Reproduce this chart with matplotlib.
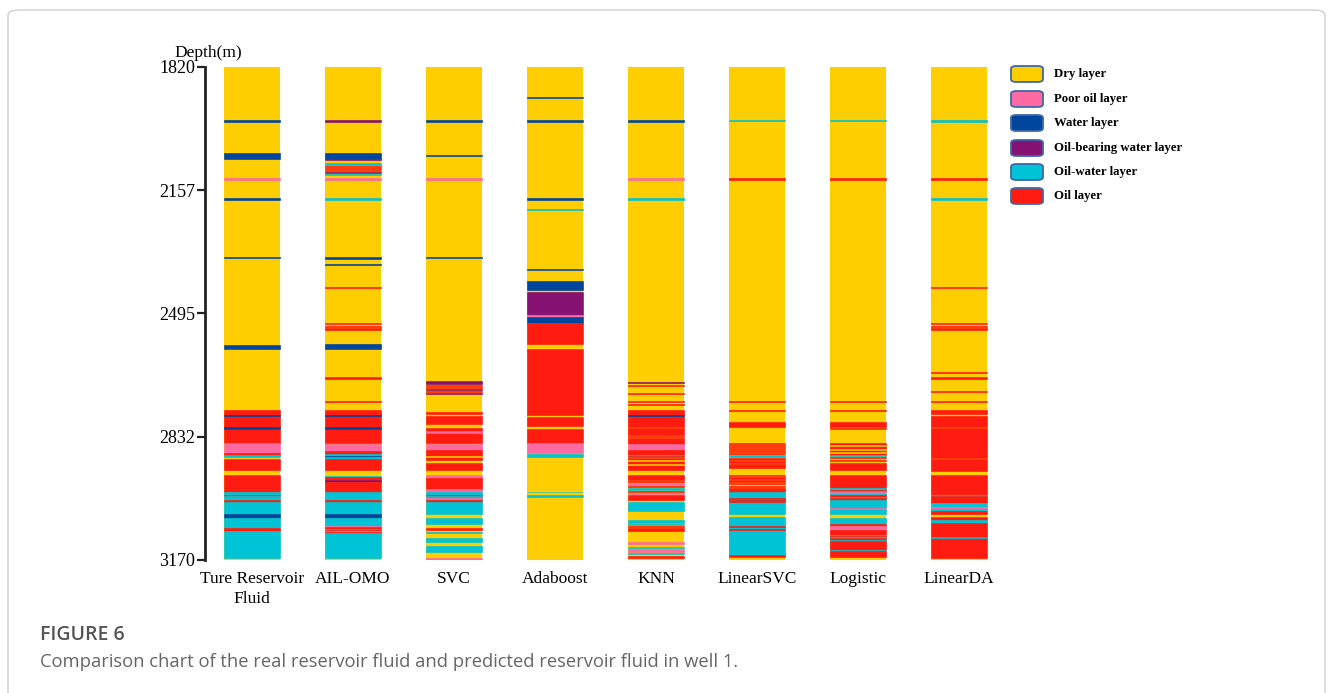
import matplotlib
matplotlib.use("Agg")
import matplotlib.pyplot as plt
from matplotlib.patches import FancyBboxPatch

plt.rcParams['font.family'] = ['Liberation Serif', 'DejaVu Serif']

# 층 종류와 색
layer_names = ['Dry layer', 'Poor oil layer', 'Water layer',
               'Oil-bearing water layer', 'Oil-water layer', 'Oil layer']
layer_codes = ['D', 'P', 'W', 'B', 'C', 'O']
layer_colors = ['#FFCE00', '#FF6AA2', '#00469E', '#861272', '#00C3D5', '#FF1B10']

methods = ['Ture Reservoir\nFluid', 'AIL-OMO', 'SVC', 'Adaboost', 'KNN',
           'LinearSVC', 'Logistic', 'LinearDA']

depth_top = 1820
depth_bottom = 3170
depth_ticks = [1820, 2157, 2495, 2832, 3170]

# 각 구간: (상부 심도, 하부 심도, 층 코드) -- 나머지는 건층(D)
true_fluid = [
    (1966, 1970, 'W'), (2055, 2071, 'W'), (2125, 2129, 'P'), (2180, 2184, 'W'),
    (2339, 2343, 'W'), (2580, 2592, 'W'), (2759, 2850, 'O'), (2773, 2777, 'W'),
    (2805, 2810, 'W'), (2850, 2878, 'P'), (2878, 2882, 'O'), (2882, 2888, 'C'),
    (2893, 2923, 'O'), (2937, 2984, 'O'), (2984, 2992, 'C'), (2992, 2996, 'O'),
    (2996, 3005, 'C'), (3005, 3010, 'O'), (3010, 3045, 'C'), (3045, 3054, 'W'),
    (3054, 3083, 'C'), (3083, 3090, 'O'), (3090, 3164, 'C'),
]

ail_omo = [
    (1966, 1970, 'B'), (2055, 2072, 'W'), (2072, 2076, 'B'), (2084, 2087, 'C'),
    (2090, 2093, 'O'), (2096, 2099, 'O'), (2101, 2104, 'O'), (2107, 2110, 'B'),
    (2114, 2117, 'C'), (2125, 2129, 'P'), (2180, 2184, 'C'), (2339, 2346, 'W'),
    (2359, 2363, 'W'), (2423, 2426, 'O'), (2520, 2523, 'O'), (2529, 2532, 'O'),
    (2536, 2539, 'O'), (2579, 2591, 'W'), (2670, 2673, 'O'), (2735, 2738, 'O'),
    (2759, 2850, 'O'), (2773, 2777, 'W'), (2805, 2810, 'W'), (2853, 2871, 'P'),
    (2871, 2880, 'O'), (2880, 2884, 'C'), (2884, 2888, 'W'), (2888, 2893, 'C'),
    (2893, 2923, 'O'), (2940, 2944, 'C'), (2944, 2951, 'O'), (2951, 2957, 'B'),
    (2957, 2984, 'O'), (2984, 3005, 'C'), (3005, 3010, 'O'), (3010, 3045, 'C'),
    (3045, 3054, 'W'), (3054, 3077, 'C'), (3077, 3080, 'P'), (3080, 3084, 'O'),
    (3084, 3087, 'C'), (3087, 3091, 'O'), (3091, 3094, 'P'), (3094, 3097, 'O'),
    (3097, 3164, 'C'),
]

svc = [
    (1966, 1970, 'W'), (2061, 2065, 'W'), (2125, 2129, 'P'), (2339, 2343, 'W'),
    (2681, 2687, 'B'), (2690, 2693, 'O'), (2696, 2699, 'O'), (2701, 2705, 'B'),
    (2707, 2710, 'O'), (2712, 2716, 'B'), (2766, 2770, 'O'), (2777, 2798, 'O'),
    (2809, 2850, 'O'), (2818, 2821, 'P'), (2853, 2869, 'P'), (2869, 2896, 'O'),
    (2886, 2889, 'D'), (2905, 2923, 'O'), (2937, 2946, 'P'), (2946, 2975, 'O'),
    (2975, 2985, 'P'), (2985, 2992, 'C'), (2992, 2996, 'O'), (2996, 3005, 'C'),
    (3000, 3003, 'P'), (3005, 3010, 'O'), (3010, 3045, 'C'), (3054, 3072, 'C'),
    (3083, 3088, 'O'), (3092, 3096, 'C'), (3109, 3120, 'C'), (3133, 3149, 'C'),
    (3165, 3170, 'P'),
]

adaboost = [
    (1901, 1905, 'W'), (1966, 1971, 'W'), (2180, 2184, 'W'), (2210, 2212, 'C'),
    (2373, 2377, 'W'), (2407, 2431, 'W'), (2437, 2500, 'B'), (2500, 2505, 'P'),
    (2505, 2520, 'W'), (2520, 2579, 'O'), (2592, 2773, 'O'), (2779, 2803, 'O'),
    (2812, 2850, 'O'), (2850, 2876, 'P'), (2881, 2889, 'C'), (2983, 2985, 'C'),
    (2992, 2997, 'C'),
]

knn = [
    (1966, 1971, 'W'), (2125, 2129, 'P'), (2180, 2183, 'C'), (2682, 2685, 'B'),
    (2691, 2694, 'O'), (2712, 2715, 'O'), (2734, 2738, 'O'), (2742, 2745, 'O'),
    (2759, 2805, 'O'), (2774, 2777, 'W'), (2809, 2828, 'O'), (2831, 2834, 'O'),
    (2837, 2853, 'O'), (2853, 2869, 'P'), (2869, 2882, 'O'), (2882, 2885, 'C'),
    (2886, 2889, 'O'), (2891, 2923, 'O'), (2897, 2900, 'D'), (2908, 2911, 'D'),
    (2937, 2951, 'O'), (2954, 2957, 'O'), (2960, 2965, 'P'), (2968, 2971, 'O'),
    (2974, 2977, 'C'), (2980, 2983, 'O'), (2986, 2989, 'P'), (2992, 3005, 'O'),
    (3010, 3037, 'C'), (3060, 3069, 'C'), (3072, 3075, 'C'), (3077, 3079, 'O'),
    (3083, 3090, 'O'), (3120, 3127, 'P'), (3134, 3137, 'C'), (3140, 3148, 'P'),
    (3150, 3154, 'C'), (3159, 3164, 'O'),
]

linear_svc = [
    (1966, 1968, 'C'), (2125, 2129, 'O'), (2734, 2737, 'O'), (2758, 2761, 'O'),
    (2792, 2805, 'O'), (2850, 2853, 'O'), (2855, 2858, 'O'), (2861, 2864, 'O'),
    (2866, 2869, 'O'), (2872, 2875, 'O'), (2877, 2881, 'O'), (2882, 2889, 'C'),
    (2891, 2896, 'O'), (2899, 2905, 'O'), (2908, 2918, 'O'), (2937, 2941, 'O'),
    (2944, 2948, 'O'), (2950, 2956, 'O'), (2959, 2963, 'O'), (2966, 2970, 'O'),
    (2972, 2977, 'O'), (2979, 2983, 'O'), (2985, 3044, 'C'), (3000, 3003, 'O'),
    (3007, 3010, 'O'), (3053, 3156, 'C'), (3077, 3080, 'O'), (3086, 3089, 'O'),
    (3156, 3163, 'O'),
]

logistic = [
    (1966, 1968, 'C'), (2125, 2129, 'O'), (2734, 2737, 'O'), (2758, 2761, 'O'),
    (2792, 2805, 'O'), (2809, 2812, 'O'), (2850, 2882, 'O'), (2856, 2859, 'D'),
    (2866, 2869, 'D'), (2874, 2877, 'D'), (2882, 2886, 'C'), (2888, 2892, 'O'),
    (2896, 2900, 'O'), (2905, 2923, 'O'), (2937, 2973, 'O'), (2973, 2977, 'C'),
    (2977, 2980, 'O'), (2980, 2984, 'C'), (2984, 2988, 'P'), (2988, 2992, 'C'),
    (2992, 2997, 'O'), (2997, 3001, 'C'), (3001, 3006, 'O'), (3006, 3010, 'C'),
    (3010, 3045, 'C'), (3028, 3030, 'P'), (3054, 3071, 'C'), (3071, 3076, 'O'),
    (3076, 3087, 'P'), (3087, 3101, 'O'), (3101, 3104, 'C'), (3104, 3108, 'O'),
    (3108, 3111, 'C'), (3111, 3115, 'O'), (3115, 3118, 'C'), (3118, 3142, 'O'),
    (3143, 3146, 'C'), (3146, 3163, 'O'),
]

linear_da = [
    (1966, 1970, 'C'), (2125, 2129, 'O'), (2180, 2184, 'C'), (2422, 2426, 'O'),
    (2521, 2524, 'O'), (2528, 2531, 'O'), (2535, 2539, 'O'), (2656, 2659, 'O'),
    (2669, 2673, 'O'), (2708, 2711, 'O'), (2734, 2738, 'O'), (2759, 2771, 'O'),
    (2775, 2805, 'O'), (2809, 2890, 'O'), (2894, 2926, 'O'), (2937, 2992, 'O'),
    (2993, 2996, 'C'), (2996, 3015, 'O'), (3015, 3024, 'C'), (3024, 3030, 'P'),
    (3030, 3035, 'C'), (3036, 3045, 'O'), (3051, 3060, 'O'), (3060, 3069, 'C'),
    (3069, 3164, 'O'), (3108, 3111, 'C'),
]

columns = [true_fluid, ail_omo, svc, adaboost, knn, linear_svc, logistic, linear_da]
color_of = dict(zip(layer_codes, layer_colors))

W, H = 1333, 693
fig = plt.figure(figsize=(W / 100, H / 100), dpi=100)

# 바깥 테두리
frame = FancyBboxPatch((8 / W, -0.05), (1325 - 8) / W, 1.05 - 10 / H,
                       boxstyle='round,pad=0,rounding_size=0.008',
                       transform=fig.transFigure, facecolor='none',
                       edgecolor='#cfcfcf', linewidth=1.0)
fig.patches.append(frame)

ax = fig.add_axes([205 / W, 1 - 560 / H, (1009.5 - 205) / W, (560 - 67) / H])
bar_w = 0.55

for i, layers in enumerate(columns):
    # 기본은 건층
    ax.bar(i, depth_bottom - depth_top, bottom=depth_top, width=bar_w,
           color=color_of['D'], linewidth=0)
    for top, bot, code in layers:
        # 얇은 층도 보이도록 같은 색 테두리를 살짝 준다
        ax.bar(i, bot - top, bottom=top, width=bar_w,
               color=color_of[code], edgecolor=color_of[code], linewidth=0.45)

ax.set_ylim(depth_bottom, depth_top)
ax.set_xlim(-0.465, 7.5)
ax.set_yticks(depth_ticks)
ax.set_xticks(range(len(methods)))
ax.set_xticklabels(methods, fontsize=12.5, linespacing=1.3)
ax.tick_params(axis='x', length=0, pad=8)
ax.tick_params(axis='y', length=6, width=1.6, labelsize=13, pad=1, color='#222222')
for side in ['top', 'right', 'bottom']:
    ax.spines[side].set_visible(False)
ax.spines['left'].set_linewidth(2)
ax.spines['left'].set_color('#222222')

fig.text(208 / W, 1 - 53 / H, 'Depth(m)', fontsize=12.5, ha='center', va='center')

# 범례
leg_y = [74, 99, 123, 148, 172, 196]
for name, col, yc in zip(layer_names, layer_colors, leg_y):
    box = FancyBboxPatch((1011 / W, 1 - (yc + 8) / H), 32 / W, 16 / H,
                         boxstyle='round,pad=0,rounding_size=0.004',
                         transform=fig.transFigure, facecolor=col,
                         edgecolor='#3E68A8', linewidth=1.3)
    fig.patches.append(box)
    fig.text(1054 / W, 1 - yc / H, name, fontsize=9.2, fontweight='bold',
             ha='left', va='center')

# 캡션
fig.text(40 / W, 1 - 635 / H, 'FIGURE 6', fontsize=14, color='#555555',
         fontweight='semibold', family=['Open Sans', 'DejaVu Sans'],
         ha='left', va='center')
fig.text(40 / W, 1 - 662 / H,
         'Comparison chart of the real reservoir fluid and predicted reservoir fluid in well 1.',
         fontsize=13.2, color='#666666', family=['Open Sans', 'DejaVu Sans'],
         ha='left', va='center')

fig.savefig('out.png', dpi=100)
